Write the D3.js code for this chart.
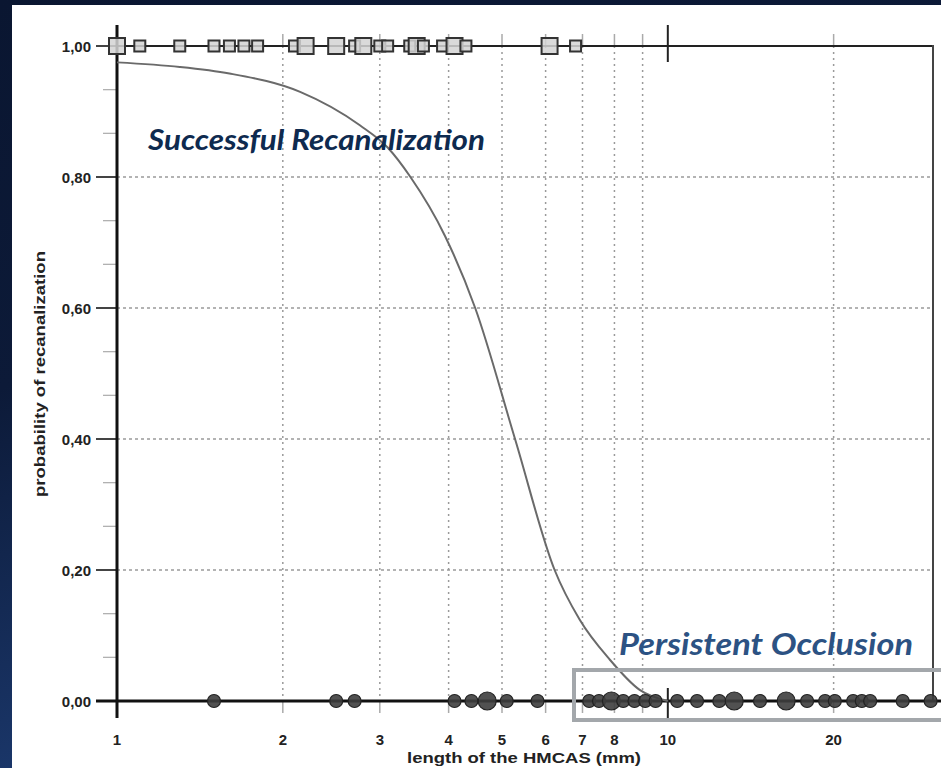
<!DOCTYPE html>
<html><head><meta charset="utf-8">
<script src="https://cdn.jsdelivr.net/npm/d3@7"></script>
<style>
html,body{margin:0;padding:0;}
body{width:941px;height:768px;overflow:hidden;background:linear-gradient(160deg,#0a1631 0%,#0c1a38 35%,#1c3a70 75%,#22447d 100%);}
svg{display:block;}
</style></head>
<body>
<svg id="chart" width="941" height="768"></svg>
<script>
// ---- data ----
const xTicks = [1, 2, 3, 4, 5, 6, 7, 8, 10, 20];
const xGrid = [2, 3, 4, 5, 6, 7, 8, 9, 20];
const yTicks = [0, 0.2, 0.4, 0.6, 0.8, 1.0];
const yTickLabels = ["0,00", "0,20", "0,40", "0,60", "0,80", "1,00"];
const yMinor = [0.0667, 0.1333, 0.2667, 0.3333, 0.4667, 0.5333, 0.6667, 0.7333, 0.8667, 0.9333];
const curveLength = [1.0, 1.3, 1.6, 2.15, 2.76, 3.1, 3.41, 3.94, 4.47, 5.28, 6.23, 6.92, 7.85, 8.89, 10.0];
const curveProb = [0.975, 0.968, 0.958, 0.93, 0.879, 0.845, 0.80, 0.71, 0.60, 0.40, 0.20, 0.124, 0.063, 0.017, 0.0];
const recanLength = [1.0, 1.1, 1.3, 1.5, 1.6, 1.7, 1.8, 2.1, 2.2, 2.5, 2.7, 2.8, 3.0, 3.1, 3.4, 3.5, 3.6, 3.9, 4.1, 4.3, 6.1, 6.8];
const recanCount = [2, 1, 1, 1, 1, 1, 1, 1, 2, 2, 1, 2, 1, 1, 1, 2, 1, 1, 2, 1, 2, 1];
const occlLength = [1.5, 2.5, 2.7, 4.1, 4.4, 4.7, 5.1, 5.8, 7.2, 7.5, 7.9, 8.3, 8.7, 9.1, 9.5, 10.4, 11.3, 12.4, 13.2, 14.7, 16.4, 17.9, 19.3, 20.1, 21.7, 22.5, 23.3, 26.7, 30.0];
const occlCount = [1, 1, 1, 1, 1, 2, 1, 1, 1, 1, 2, 1, 1, 1, 1, 1, 1, 1, 2, 1, 2, 1, 1, 1, 1, 1, 1, 1, 1];

const svg = d3.select("#chart");
// white panel
svg.append("rect").attr("x", 12).attr("y", 5).attr("width", 941 - 12).attr("height", 768 - 5).attr("fill", "#ffffff");

const x = d3.scaleLog().domain([1, 30.3]).range([117, 933]);
const y = d3.scaleLinear().domain([0, 1]).range([701, 46]);
const FONT = "'Liberation Sans', Arial, sans-serif";

// vertical dotted grid
svg.append("g").selectAll("line").data(xGrid).join("line")
  .attr("x1", d => x(d)).attr("x2", d => x(d))
  .attr("y1", y(1)).attr("y2", y(0))
  .attr("stroke", "#9a9a9a").attr("stroke-width", 1.5).attr("stroke-dasharray", "2,4");
// grid ticks above and below frame
svg.append("g").selectAll("line").data(xGrid).join("line")
  .attr("x1", d => x(d)).attr("x2", d => x(d)).attr("y1", 34).attr("y2", y(1))
  .attr("stroke", "#aaa").attr("stroke-width", 1.5);
svg.append("g").selectAll("line").data(xGrid).join("line")
  .attr("x1", d => x(d)).attr("x2", d => x(d)).attr("y1", y(0)).attr("y2", 713)
  .attr("stroke", "#aaa").attr("stroke-width", 1.5);
// horizontal dotted grid
svg.append("g").selectAll("line").data(yTicks.filter(d => d > 0 && d < 1)).join("line")
  .attr("x1", x(1)).attr("x2", 933)
  .attr("y1", d => y(d)).attr("y2", d => y(d))
  .attr("stroke", "#9a9a9a").attr("stroke-width", 1.5).attr("stroke-dasharray", "3,3");

// y minor ticks
svg.append("g").selectAll("line").data(yMinor).join("line")
  .attr("x1", 103).attr("x2", x(1)).attr("y1", d => y(d)).attr("y2", d => y(d))
  .attr("stroke", "#aaa").attr("stroke-width", 1.2);
// y major ticks
svg.append("g").selectAll("line").data(yTicks).join("line")
  .attr("x1", 96).attr("x2", x(1)).attr("y1", d => y(d)).attr("y2", d => y(d))
  .attr("stroke", "#444").attr("stroke-width", 2);
svg.append("g").selectAll("text").data(yTicks).join("text")
  .attr("x", 91).attr("y", d => y(d) + 5.5).attr("text-anchor", "end")
  .attr("font-family", FONT).attr("font-weight", "bold").attr("font-size", 15).attr("fill", "#222")
  .text((d, i) => yTickLabels[i]);

// frame
svg.append("line").attr("x1", x(1)).attr("x2", 933).attr("y1", y(1)).attr("y2", y(1)).attr("stroke", "#222").attr("stroke-width", 2);
svg.append("line").attr("x1", 933).attr("x2", 933).attr("y1", y(1) - 1).attr("y2", y(0)).attr("stroke", "#444").attr("stroke-width", 2);
svg.append("line").attr("x1", 96).attr("x2", 941).attr("y1", y(0)).attr("y2", y(0)).attr("stroke", "#111").attr("stroke-width", 3);
svg.append("line").attr("x1", x(1)).attr("x2", x(1)).attr("y1", 25).attr("y2", 718).attr("stroke", "#111").attr("stroke-width", 3);
// major tick at 10
svg.append("line").attr("x1", x(10)).attr("x2", x(10)).attr("y1", 25).attr("y2", 62).attr("stroke", "#222").attr("stroke-width", 2);
svg.append("line").attr("x1", x(10)).attr("x2", x(10)).attr("y1", 688).attr("y2", 718).attr("stroke", "#222").attr("stroke-width", 2);

// x tick labels
svg.append("g").selectAll("text").data(xTicks).join("text")
  .attr("x", d => x(d)).attr("y", 745).attr("text-anchor", "middle")
  .attr("font-family", FONT).attr("font-weight", "bold").attr("font-size", 15).attr("fill", "#222")
  .text(d => d);
// axis titles
svg.append("text").attr("x", 407).attr("y", 763)
  .attr("font-family", FONT).attr("font-weight", "bold").attr("font-size", 15).attr("fill", "#222")
  .attr("textLength", 234).attr("lengthAdjust", "spacingAndGlyphs")
  .text("length of the HMCAS (mm)");
svg.append("text").attr("transform", "translate(45,497) rotate(-90)")
  .attr("font-family", FONT).attr("font-weight", "bold").attr("font-size", 15).attr("fill", "#222")
  .attr("textLength", 246).attr("lengthAdjust", "spacingAndGlyphs")
  .text("probability of recanalization");

// fitted curve
const line = d3.line().x(d => x(d[0])).y(d => y(d[1])).curve(d3.curveMonotoneX);
svg.append("path").datum(curveLength.map((v, i) => [v, curveProb[i]]))
  .attr("d", line).attr("fill", "none").attr("stroke", "#6a6a6a").attr("stroke-width", 2);

// recanalized: squares at 1
svg.append("g").selectAll("rect").data(recanLength).join("rect")
  .each(function (d, i) {
    const s = recanCount[i] > 1 ? 16 : 11;
    d3.select(this).attr("x", x(d) - s / 2).attr("y", y(1) - s / 2).attr("width", s).attr("height", s);
  })
  .attr("fill", "#d4d4d4").attr("fill-opacity", 0.85).attr("stroke", "#333").attr("stroke-width", 2);

// occluded: circles at 0
svg.append("g").selectAll("circle").data(occlLength).join("circle")
  .attr("cx", d => x(d)).attr("cy", y(0))
  .attr("r", (d, i) => occlCount[i] > 1 ? 9 : 6.5)
  .attr("fill", "#3e3e3e").attr("fill-opacity", 0.9).attr("stroke", "#222").attr("stroke-width", 1.2);

// annotations
svg.append("text").attr("x", 148).attr("y", 150)
  .attr("font-family", "Lato, 'Open Sans', sans-serif").attr("font-style", "italic").attr("font-weight", "bold")
  .attr("font-size", 29).attr("fill", "#0e2a4f").attr("textLength", 337).attr("lengthAdjust", "spacingAndGlyphs")
  .text("Successful Recanalization");
svg.append("text").attr("x", 619).attr("y", 655)
  .attr("font-family", "Lato, 'Open Sans', sans-serif").attr("font-style", "italic").attr("font-weight", "bold")
  .attr("font-size", 30).attr("fill", "#2c5283").attr("textLength", 294).attr("lengthAdjust", "spacingAndGlyphs")
  .text("Persistent Occlusion");
// highlight box
svg.append("rect").attr("x", 574).attr("y", 670).attr("width", 380).attr("height", 50)
  .attr("fill", "none").attr("stroke", "#a3a7ab").attr("stroke-width", 4);
</script>
</body></html>
